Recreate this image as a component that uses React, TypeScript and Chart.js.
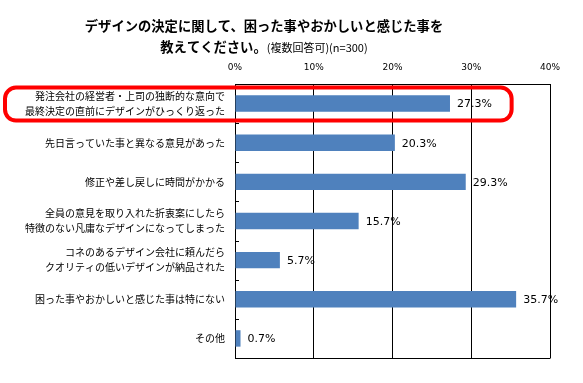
import React, { useEffect, useRef } from 'react';
import { Chart, registerables } from 'chart.js';

Chart.register(...registerables);

const categories: (string | string[])[] = [
  ['発注会社の経営者・上司の独断的な意向で', '最終決定の直前にデザインがひっくり返った'],
  '先日言っていた事と異なる意見があった',
  '修正や差し戻しに時間がかかる',
  ['全員の意見を取り入れた折衷案にしたら', '特徴のない凡庸なデザインになってしまった'],
  ['コネのあるデザイン会社に頼んだら', 'クオリティの低いデザインが納品された'],
  '困った事やおかしいと感じた事は特にない',
  'その他',
];
const values = [27.3, 20.3, 29.3, 15.7, 5.7, 35.7, 0.7];
const xMin = 0;
const xMax = 40;
const xStep = 10;
const titleLine1 = 'デザインの決定に関して、困った事やおかしいと感じた事を';
const titleLine2Bold = '教えてください。';
const titleLine2Normal = '(複数回答可)(n=300)';
const highlightIndex = 0;
const highlightRightValue = 35;

const JP = '"Noto Sans CJK JP", "Noto Sans", sans-serif';

const titlePlugin = {
  id: 'customTitle',
  afterDraw(chart: any) {
    const ctx = chart.ctx;
    const cx = 264;
    ctx.save();
    ctx.fillStyle = '#000';
    ctx.textBaseline = 'middle';
    ctx.font = `bold 13.3px ${JP}`;
    ctx.textAlign = 'center';
    ctx.fillText(titleLine1, cx, 26);
    const boldFont = `bold 13.3px ${JP}`;
    const normFont = `11px ${JP}`;
    ctx.font = boldFont;
    const w1 = ctx.measureText(titleLine2Bold).width;
    ctx.font = normFont;
    const w2 = ctx.measureText(titleLine2Normal).width;
    const start = cx - (w1 + w2) / 2;
    ctx.textAlign = 'left';
    ctx.font = boldFont;
    ctx.fillText(titleLine2Bold, start, 47);
    ctx.font = normFont;
    ctx.fillText(titleLine2Normal, start + w1, 48);
    ctx.restore();
  },
};

const decorPlugin = {
  id: 'decor',
  afterDraw(chart: any) {
    const ctx = chart.ctx;
    const { left, right, bottom } = chart.chartArea;
    const y = chart.scales.y;
    const x = chart.scales.x;
    ctx.save();
    // bottom border
    ctx.strokeStyle = '#000';
    ctx.lineWidth = 1;
    ctx.beginPath();
    ctx.moveTo(left, Math.round(bottom) + 0.5);
    ctx.lineTo(right + 0.5, Math.round(bottom) + 0.5);
    ctx.stroke();
    // inner category ticks
    for (let i = 1; i < categories.length; i++) {
      const py = Math.round(y.getPixelForValue(i - 0.5)) + 0.5;
      ctx.beginPath();
      ctx.moveTo(left, py);
      ctx.lineTo(left + 4, py);
      ctx.stroke();
    }
    // value labels
    const meta = chart.getDatasetMeta(0);
    ctx.fillStyle = '#000';
    ctx.font = '11px "DejaVu Sans", sans-serif';
    ctx.textBaseline = 'middle';
    ctx.textAlign = 'left';
    meta.data.forEach((el: any, i: number) => {
      ctx.fillText(values[i].toFixed(1) + '%', el.x + 7, el.y + 1);
    });
    // highlight box
    const cy = y.getPixelForValue(highlightIndex);
    const top = cy - 16;
    const bot = cy + 17;
    const l = 5;
    const r = x.getPixelForValue(highlightRightValue) + 1;
    const rad = 11;
    ctx.strokeStyle = '#FF0000';
    ctx.lineWidth = 4;
    ctx.beginPath();
    ctx.moveTo(l + rad, top);
    ctx.lineTo(r - rad, top);
    ctx.arcTo(r, top, r, top + rad, rad);
    ctx.lineTo(r, bot - rad);
    ctx.arcTo(r, bot, r - rad, bot, rad);
    ctx.lineTo(l + rad, bot);
    ctx.arcTo(l, bot, l, bot - rad, rad);
    ctx.lineTo(l, top + rad);
    ctx.arcTo(l, top, l + rad, top, rad);
    ctx.closePath();
    ctx.stroke();
    ctx.restore();
  },
};

export default function App() {
  const ref = useRef<HTMLCanvasElement>(null);
  useEffect(() => {
    if (!ref.current) return;
    const chart = new Chart(ref.current, {
      type: 'bar',
      data: {
        labels: categories,
        datasets: [
          {
            data: values,
            backgroundColor: '#4F81BD',
            borderWidth: 0,
            categoryPercentage: 1,
            barPercentage: 0.42,
          },
        ],
      },
      options: {
        indexAxis: 'y',
        responsive: false,
        animation: false,
        layout: { padding: { top: 0, right: 33, bottom: 12, left: 0 } },
        plugins: {
          legend: { display: false },
          title: { display: false },
          tooltip: { enabled: false },
        },
        scales: {
          x: {
            position: 'top',
            min: xMin,
            max: xMax,
            ticks: {
              stepSize: xStep,
              callback: (v: any) => v + '%',
              color: '#000',
              font: { family: '"DejaVu Sans", sans-serif', size: 9 },
              padding: 11,
            },
            grid: { color: '#000', lineWidth: 1, drawTicks: false },
            border: { color: '#000', width: 1 },
            afterFit: (s: any) => {
              s.height = 84;
            },
          },
          y: {
            ticks: {
              color: '#000',
              font: { family: JP, size: 10, lineHeight: 1.5 },
              padding: 10,
              autoSkip: false,
            },
            grid: { drawOnChartArea: false, drawTicks: false },
            border: { color: '#000', width: 1 },
            afterFit: (s: any) => {
              s.width = 235;
            },
          },
        },
      },
      plugins: [titlePlugin, decorPlugin],
    });
    return () => chart.destroy();
  }, []);
  return (
    <canvas
      ref={ref}
      width={583}
      height={383}
      style={{ position: 'absolute', left: 0, top: 0, display: 'block', background: '#fff' }}
    />
  );
}
